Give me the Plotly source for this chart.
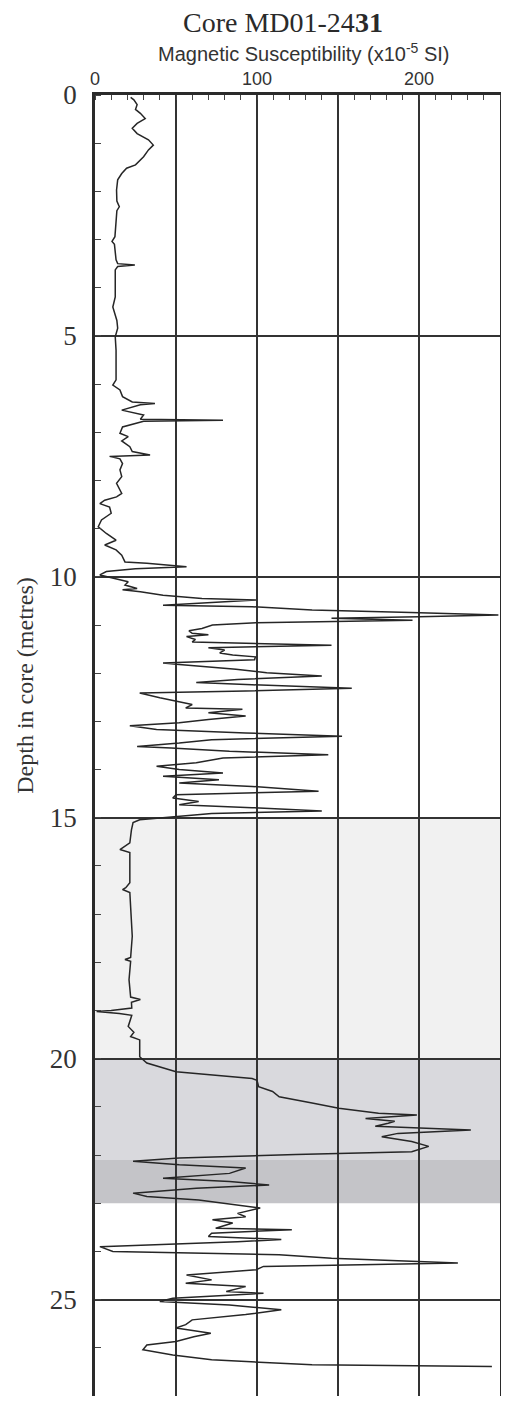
import plotly.graph_objects as go

# ---- data ----
depth_m = [0.05, 0.1, 0.2, 0.3, 0.38, 0.49, 0.59, 0.69, 0.8, 0.93, 1.04, 1.14, 1.28, 1.45, 1.52,
           1.63, 1.76, 1.97, 2.2, 2.32, 2.4, 2.59, 2.94, 3.04, 3.1, 3.42, 3.5, 3.53, 3.56, 3.63,
           4.19, 4.4, 4.53, 4.68, 4.84, 5.02, 5.3, 5.91,
           6.02, 6.12, 6.26, 6.37, 6.40, 6.43, 6.54, 6.64, 6.73, 6.75, 6.77, 6.89, 7.02, 7.09,
           7.18, 7.30, 7.40, 7.47, 7.50, 7.55, 7.65, 7.78, 7.92, 8.06, 8.27, 8.34, 8.41, 8.48,
           8.55, 8.68, 8.82, 8.96, 9.10, 9.24, 9.34, 9.44, 9.55, 9.69, 9.72, 9.79, 9.83, 9.89,
           9.96, 10.03, 10.10, 10.17, 10.24, 10.27, 10.31, 10.38, 10.45, 10.48, 10.52, 10.59,
           10.62, 10.69, 10.74, 10.79, 10.83, 10.86, 10.90, 10.95, 11.0, 11.07, 11.12, 11.17,
           11.2, 11.24, 11.3, 11.35, 11.42, 11.47, 11.52, 11.58, 11.62, 11.66,
           11.72, 11.79, 11.82, 11.92, 11.99, 12.06, 12.13, 12.19, 12.24, 12.31, 12.37, 12.41,
           12.51, 12.58, 12.65, 12.72, 12.75, 12.82, 12.89, 12.96, 13.03, 13.09, 13.17, 13.24,
           13.31, 13.38, 13.45, 13.52, 13.55, 13.62, 13.69, 13.76, 13.86, 13.93, 14.0, 14.07,
           14.14, 14.21, 14.28, 14.35, 14.45, 14.52, 14.59, 14.66, 14.73, 14.79, 14.86, 14.91,
           14.97, 15.0, 15.04, 15.1, 15.25, 15.52, 15.62, 15.66, 15.72, 16.35, 16.45, 16.49,
           16.55, 17.04, 17.46, 17.9, 17.94, 17.98, 18.36, 18.72, 18.77, 18.83, 18.95,
           19.0, 19.02, 19.06, 19.1, 19.33, 19.45, 19.54, 19.61, 19.96, 20.09, 20.27, 20.41,
           20.45, 20.58, 20.68, 20.79, 20.92, 21.03, 21.13, 21.17, 21.24, 21.30, 21.34, 21.40,
           21.48, 21.55, 21.62, 21.72, 21.82, 21.93, 21.99, 22.06, 22.13, 22.2, 22.27, 22.38,
           22.48, 22.55, 22.62, 22.69, 22.79, 22.86, 22.93, 23.03, 23.1, 23.21, 23.28, 23.34,
           23.41, 23.52, 23.55, 23.62, 23.69, 23.75, 23.8, 23.9, 24.0, 24.07, 24.14, 24.24,
           24.31, 24.38, 24.49, 24.59, 24.66, 24.73, 24.83, 24.87, 24.97, 25.04, 25.11, 25.21,
           25.31, 25.42, 25.52, 25.59, 25.7, 25.77, 25.87, 25.94, 26.04, 26.15, 26.25, 26.35,
           26.39]

mag_susc = [22, 24, 26, 25, 28, 31, 26, 23, 26, 33, 36, 33, 30, 25, 19.5,
            16.5, 14, 13.3, 13.5, 15, 13.5, 13, 12.3, 10.5, 12, 13, 14, 24.6, 14, 12.5,
            12.5, 11, 12, 13.5, 14, 12.5, 13, 13,
            11, 15.4, 17, 23, 37, 28, 16.5, 30, 28, 79, 30, 17, 15.4, 20.5,
            16.5, 21.5, 23, 34, 9, 15.4, 17, 15.4, 16.5, 13.3, 16.5, 13.3, 6, 3,
            9, 10, 4, 2, 7, 13, 6, 13, 16.5, 18.5, 32, 56.5, 25, 7,
            3, 11, 20.5, 18.5, 26, 17, 28, 42, 66, 99.5, 81, 42,
            97, 134, 195, 249, 200, 146, 196, 99.5, 72.5, 66, 58, 60,
            70, 56.5, 62, 60, 146, 70, 80, 77, 85, 99,
            98.5, 42, 52, 87, 106, 140, 88, 62.5, 97, 158.5, 93, 27.6,
            40, 50, 60, 56, 91, 70, 93, 70, 52, 21.5, 38, 93,
            152.5, 72, 52, 26, 47, 83, 144, 79, 62.5, 38, 52, 79,
            42, 76.5, 52, 97, 138, 50, 48, 64, 52, 97, 140, 72,
            52, 44, 27.6, 23.5, 22.5, 21.5, 17, 15.4, 21.5, 21.5, 19, 17,
            21.5, 22.5, 23, 22, 18.5, 22, 21, 22, 28, 22.5, 22.7,
            10, 1, 15, 22.7, 20.5, 24, 22, 27.6, 27.6, 32, 50, 97,
            100, 101, 109.6, 113.7, 134, 150.5, 175, 198.7, 167, 185, 181, 173,
            232, 187, 177, 195.5, 206, 195.5, 124, 52, 23.5, 52, 93, 83,
            42, 83, 107.5, 62.5, 23.5, 32, 64, 85, 102, 88, 93, 72.5,
            85, 74.5, 121.5, 72, 70, 115, 88, 3, 11, 113.7, 146, 224,
            104, 99.5, 56.5, 72, 56, 93, 81, 104, 48, 40, 83, 115,
            93, 60, 56, 50, 71.5, 61, 50, 32, 29.6, 48, 72, 134,
            245]

band_top = [15, 20, 22.1]
band_bottom = [20, 22.1, 23]
band_colors = ["#f1f1f1", "#d9d9dd", "#c4c4c8"]

x_tickvals = [0, 50, 100, 150, 200, 250]
x_ticktext = ["0", "", "100", "", "200", ""]
y_tickvals = [0, 5, 10, 15, 20, 25]

fig = go.Figure()
fig.add_trace(go.Scatter(x=mag_susc, y=depth_m, mode="lines",
                         line=dict(color="#262626", width=1.5), showlegend=False,
                         hoverinfo="skip"))

for t, b, c in zip(band_top, band_bottom, band_colors):
    fig.add_shape(type="rect", xref="paper", yref="y", x0=0, x1=1, y0=t, y1=b,
                  fillcolor=c, line=dict(width=0), layer="below")

# the page body has an 8 px default margin, so the figure is sized to fit inside the window
fig.update_layout(
    width=493, height=1388,
    margin=dict(l=87, r=1, t=87, b=0, autoexpand=False),
    paper_bgcolor="white", plot_bgcolor="white",
    showlegend=False,
    xaxis=dict(side="top", range=[0, 250], tickvals=x_tickvals, ticktext=x_ticktext,
               automargin=False,
               showgrid=True, gridcolor="#333333", gridwidth=1.6, zeroline=False,
               showline=True, mirror=True, linecolor="#2a2a2a", linewidth=2.5,
               ticks="", ticklabelstandoff=0,
               tickfont=dict(family="Liberation Sans, Arial, sans-serif", size=18, color="#333333"),
               minor=dict(dtick=10, ticks="inside", ticklen=5, tickcolor="#444444",
                          tickwidth=1, showgrid=False)),
    yaxis=dict(range=[27.0, 0], tickvals=y_tickvals, automargin=False,
               showgrid=True, gridcolor="#333333", gridwidth=1.6, zeroline=False,
               showline=True, mirror=True, linecolor="#2a2a2a", linewidth=2.5,
               ticks="", ticklabelstandoff=10,
               tickfont=dict(family="Liberation Serif, Times New Roman, serif", size=27, color="#333333"),
               minor=dict(dtick=1, ticks="inside", ticklen=6, tickcolor="#444444",
                          tickwidth=1, showgrid=False)),
    annotations=[
        dict(text="Core MD01-24<b>31</b>", xref="paper", yref="paper",
             x=0.464, y=1 + (87 - 15) / 1301, xanchor="center", yanchor="middle",
             showarrow=False,
             font=dict(family="Liberation Serif, Times New Roman, serif", size=28, color="#2a2a2a")),
        dict(text="Magnetic Susceptibility (x10<sup>-5</sup> SI)", xref="paper", yref="paper",
             x=0.516, y=1 + (87 - 44) / 1301, xanchor="center", yanchor="middle",
             showarrow=False,
             font=dict(family="Liberation Sans, Arial, sans-serif", size=20, color="#333333")),
        dict(text="Depth in core (metres)", xref="paper", yref="y",
             x=0, xshift=-70, y=12.26, xanchor="center", yanchor="middle",
             textangle=-90, showarrow=False,
             font=dict(family="Liberation Serif, Times New Roman, serif", size=24, color="#333333")),
    ],
)

fig.write_html("out.html")
